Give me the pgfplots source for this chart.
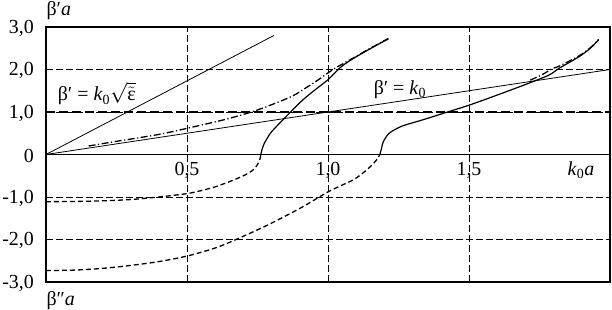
\documentclass[border=0pt]{standalone}
\usepackage{pgfplots}
\pgfplotsset{compat=1.18}
\usepackage{fontspec}
\setmainfont{Liberation Serif}
\newcommand\lab{\fontsize{20}{22}\selectfont}
\begin{document}
\begin{tikzpicture}
\path[use as bounding box] (-46bp,-28bp) rectangle (566bp,282bp);
\begin{axis}[
  scale only axis, width=564bp, height=255bp,
  xmin=0, xmax=2, ymin=-3, ymax=3,
  clip=false,
  axis line style={line width=2.2bp},
  xtick={0.5,1,1.5}, xticklabels={},
  ytick={-3,-2,-1,0,1,2,3},
  yticklabels={{-3,0},{-2,0},{-1,0},{0\hspace{4bp}},{1,0},{2,0},{3,0}},
  yticklabel style={font=\lab, anchor=east, inner sep=0pt, xshift=-12bp, yshift=-1bp},
  major tick length=0pt,
  grid=major,
  major grid style={line width=0.8bp, dash pattern=on 7bp off 3bp, black},
]
% axis y = 0
\addplot[line width=1bp] coordinates {(0,0) (2,0)};
% y = 1 thick dashed
\addplot[line width=1.7bp, dash pattern=on 9bp off 4bp] coordinates {(0,1) (2,1)};
% beta' = k0
\addplot[line width=0.8bp] coordinates {(0,0) (2,2)};
% beta' = k0 sqrt(eps)
\addplot[line width=0.8bp] coordinates {(0,0) (0.808,2.8)};

% mode 1 real part (solid)
\addplot[line width=1.2bp, smooth, tension=0.5] coordinates {
(0.762,0) (0.766,0.12) (0.774,0.26) (0.786,0.40) (0.798,0.52) (0.82,0.68) (0.851,0.89)
(0.905,1.25) (0.95,1.5) (1.0,1.76) (1.036,2.0) (1.06,2.13) (1.1,2.3) (1.142,2.46) (1.18,2.6) (1.214,2.72)};
% mode 1 dash-dot
\addplot[line width=1.3bp, smooth, tension=0.5, dash pattern=on 7bp off 2.5bp on 1.2bp off 2.5bp] coordinates {
(0.151,0.2) (0.25,0.31) (0.406,0.48) (0.549,0.69) (0.65,0.85) (0.751,1.05) (0.869,1.36)
(0.929,1.6) (0.964,1.75) (1.0,1.92) (1.03,2.05) (1.06,2.16) (1.1,2.31) (1.142,2.47) (1.214,2.73)};
% mode 1 imaginary (dashed)
\addplot[line width=1.3bp, smooth, tension=0.5, dash pattern=on 5bp off 3bp] coordinates {
(0,-1.11) (0.1,-1.105) (0.2,-1.09) (0.3,-1.06) (0.4,-1.0) (0.5,-0.92) (0.55,-0.85) (0.6,-0.76)
(0.65,-0.64) (0.69,-0.53) (0.72,-0.43) (0.74,-0.33) (0.753,-0.2) (0.759,-0.1) (0.762,0)};

% mode 2 real part (solid)
\addplot[line width=1.2bp, smooth, tension=0.5] coordinates {
(1.184,0) (1.19,0.15) (1.196,0.30) (1.21,0.45) (1.225,0.54) (1.25,0.63) (1.272,0.69) (1.343,0.83)
(1.414,0.98) (1.5,1.16) (1.617,1.44) (1.717,1.69) (1.784,1.87) (1.82,2.03) (1.89,2.30) (1.93,2.5) (1.96,2.7)};
% mode 2 dash-dot
\addplot[line width=1.3bp, smooth, tension=0.5, dash pattern=on 7bp off 2.5bp on 1.2bp off 2.5bp] coordinates {
(1.717,1.75) (1.76,1.88) (1.795,2.02) (1.82,2.08) (1.89,2.32) (1.93,2.51) (1.96,2.71)};
% mode 2 imaginary (dashed)
\addplot[line width=1.3bp, smooth, tension=0.5, dash pattern=on 5bp off 3bp] coordinates {
(0,-2.73) (0.1,-2.72) (0.2,-2.68) (0.3,-2.61) (0.4,-2.52) (0.5,-2.39) (0.6,-2.2) (0.667,-2.02)
(0.786,-1.66) (0.905,-1.25) (1.0,-0.88) (1.05,-0.72) (1.094,-0.58) (1.136,-0.37) (1.16,-0.22)
(1.172,-0.13) (1.184,0)};

% tick labels on the x axis line
\node[font=\lab, anchor=base, yshift=-21bp] at (axis cs:0.5,0) {0,5};
\node[font=\lab, anchor=base, yshift=-21bp] at (axis cs:1.0,0) {1,0};
\node[font=\lab, anchor=base, yshift=-21bp] at (axis cs:1.5,0) {1,5};
\node[font=\lab, anchor=base, yshift=-21bp] at (axis cs:1.897,0) {\textit{k}\textsubscript{0}\textit{a}};
% curve labels
\node[font=\lab, anchor=base] at (axis cs:0.18,1.26) {β′ = \textit{k}\textsubscript{0}$\sqrt{\tilde{\mbox{ε}}}$};
\node[font=\lab, anchor=base] at (axis cs:1.255,1.42) {β′ = \textit{k}\textsubscript{0}};
% axis labels
\node[font=\lab, anchor=base west, xshift=-3bp, yshift=12bp] at (rel axis cs:0,1) {β′\textit{a}};
\node[font=\lab, anchor=base west, xshift=-3bp, yshift=-23bp] at (rel axis cs:0,0) {β″\textit{a}};
\end{axis}
\end{tikzpicture}
\end{document}
